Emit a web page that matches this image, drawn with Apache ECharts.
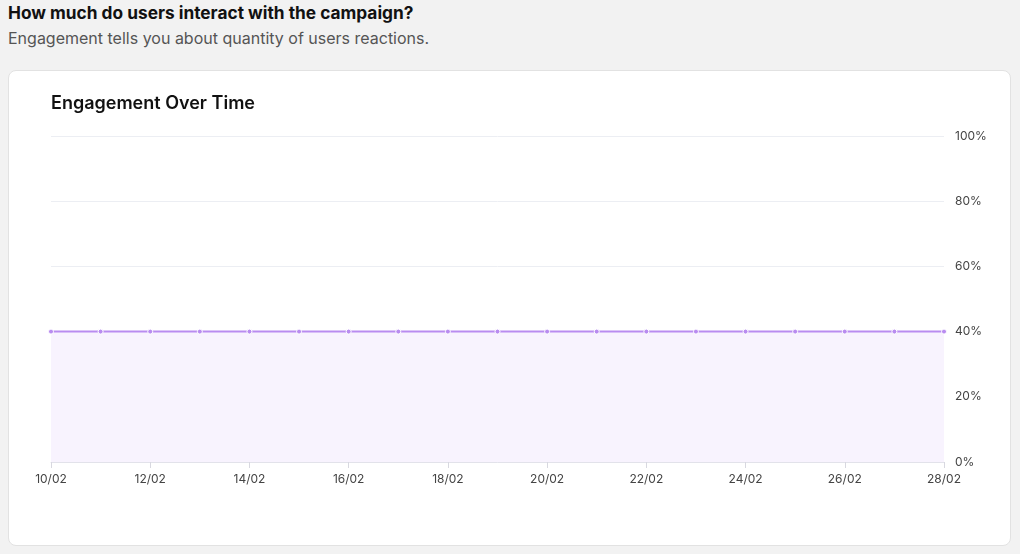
<!DOCTYPE html>
<html>
<head>
<meta charset="utf-8">
<script src="https://cdn.jsdelivr.net/npm/echarts@6/dist/echarts.min.js"></script>
<style>
  html, body { margin: 0; padding: 0; background: #f2f2f2; width: 1020px; height: 554px; overflow: hidden; font-family: Inter, "Noto Sans", sans-serif; }
  #h1 { position: absolute; left: 8px; top: 2px; font-size: 17.3px; font-weight: 700; color: #111; }
  #h2 { position: absolute; left: 8px; top: 28px; font-size: 16px; color: #555; }
  #card { position: absolute; left: 8px; top: 70px; width: 1001px; height: 474px; background: #fff; border: 1px solid #e2e2e2; border-radius: 8px; }
  #chart { position: absolute; left: 0; top: 0; width: 1001px; height: 474px; }
</style>
</head>
<body>
<div id="h1">How much do users interact with the campaign?</div>
<div id="h2">Engagement tells you about quantity of users reactions.</div>
<div id="card"><div id="chart"></div></div>
<script>
const dates = ["10/02","11/02","12/02","13/02","14/02","15/02","16/02","17/02","18/02","19/02","20/02","21/02","22/02","23/02","24/02","25/02","26/02","27/02","28/02"];
const engagement = [40,40,40,40,40,40,40,40,40,40,40,40,40,40,40,40,40,40,40];
const yTicks = [0,20,40,60,80,100];

const chart = echarts.init(document.getElementById('chart'));
chart.setOption({
  animation: false,
  title: {
    text: 'Engagement Over Time',
    left: 42, top: 24, padding: 0,
    textStyle: { fontFamily: 'Inter', fontSize: 18, fontWeight: 600, color: '#111' }
  },
  grid: { left: 42, right: 66, top: 65, bottom: 83 },
  xAxis: {
    type: 'category',
    data: dates,
    boundaryGap: false,
    axisLine: { lineStyle: { color: '#e2e2ea' } },
    axisTick: { interval: 1, length: 6, lineStyle: { color: '#d8d8e0' } },
    axisLabel: { interval: 1, margin: 11, fontFamily: 'Inter', fontSize: 12, color: '#444' },
    splitLine: { show: false }
  },
  yAxis: {
    type: 'value',
    position: 'right',
    min: yTicks[0], max: yTicks[yTicks.length-1], interval: 20,
    axisLine: { show: false },
    axisTick: { show: false },
    axisLabel: { margin: 11, formatter: '{value}%', fontFamily: 'Inter', fontSize: 12, color: '#444' },
    splitLine: { lineStyle: { color: '#eceef3' } }
  },
  series: [{
    type: 'line',
    data: engagement,
    symbol: 'circle',
    symbolSize: 5,
    lineStyle: { color: '#b98cf0', width: 2 },
    itemStyle: { color: '#b98cf0', borderColor: '#ffffff', borderWidth: 1 },
    areaStyle: { color: '#f8f3fe', opacity: 1 }
  }]
});
</script>
</body>
</html>
